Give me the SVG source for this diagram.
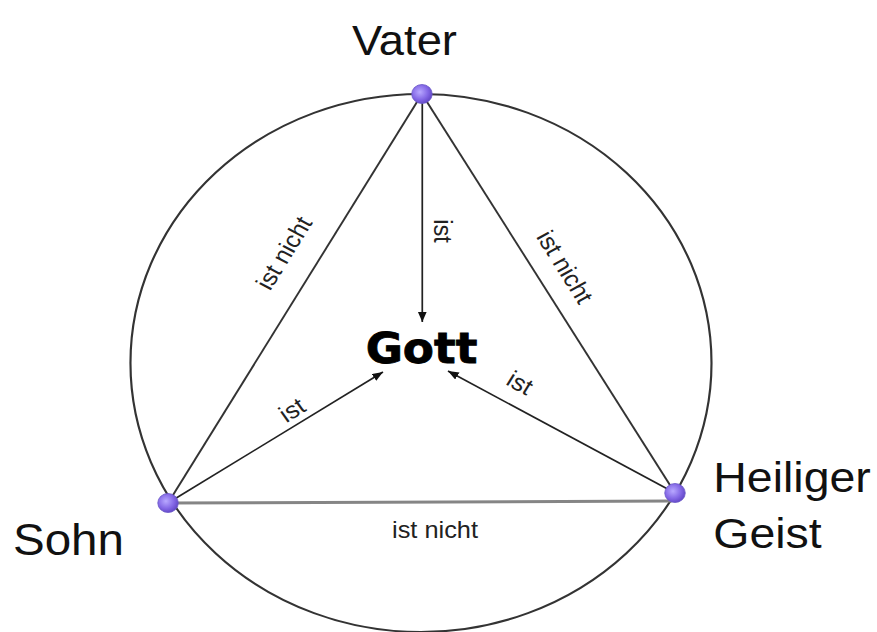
<svg xmlns="http://www.w3.org/2000/svg" width="877" height="632" viewBox="0 0 877 632">
<defs>
<style>
.edge{stroke:#333;stroke-width:1.8;fill:none}
.base{stroke:#858585;stroke-width:3;fill:none}
.arrow{stroke:#222;stroke-width:1.6;fill:none;marker-end:url(#ah)}
.ring{stroke:#333;stroke-width:2;fill:none}
.big{font-family:"Liberation Sans",Arial,sans-serif;fill:#111}
.lbl{font-family:"Liberation Sans",Arial,sans-serif;font-size:23.5px;fill:#222}
.gott{font-family:"DejaVu Sans",Verdana,sans-serif;font-weight:bold;font-size:42px;fill:#000;stroke:#000;stroke-width:0.8}
.node{fill:url(#ng);stroke:#6a58c8;stroke-width:0.8}
</style>
<radialGradient id="ng" cx="0.4" cy="0.4" r="0.65">
<stop offset="0" stop-color="#b8a8ff"/>
<stop offset="0.6" stop-color="#8468e6"/>
<stop offset="1" stop-color="#5f44c4"/>
</radialGradient>
<marker id="ah" markerUnits="userSpaceOnUse" markerWidth="12" markerHeight="10" refX="10" refY="4" orient="auto">
<path d="M0,0 L10,4 L0,8 z" fill="#111"/>
</marker>
</defs>
<rect width="877" height="632" fill="#fff"/>
<g transform="scale(1.08 1)">
<circle class="ring" cx="389.8" cy="363" r="269"/>
<g id="connectors">
<line class="edge" x1="390.7" y1="94" x2="155.6" y2="503"/>
<line class="edge" x1="390.7" y1="94" x2="625" y2="493"/>
<line class="base" x1="155.6" y1="503" x2="622" y2="501"/>
<line class="arrow" x1="391" y1="100" x2="391" y2="322"/>
<line class="arrow" x1="155.6" y1="503" x2="354.6" y2="372"/>
<line class="arrow" x1="625" y1="493" x2="414.8" y2="371"/>
<text class="lbl" text-anchor="middle" transform="translate(263 253) rotate(-60.1)" dy="8">ist nicht</text>
<text class="lbl" text-anchor="middle" transform="translate(523 267) rotate(59.6)" dy="8">ist nicht</text>
<text class="lbl" text-anchor="middle" x="402.8" y="538">ist nicht</text>
<text class="lbl" text-anchor="middle" transform="translate(402 231) rotate(90)">ist</text>
<text class="lbl" text-anchor="middle" transform="translate(270.4 410) rotate(-33.4)" dy="8">ist</text>
<text class="lbl" text-anchor="middle" transform="translate(481.5 383) rotate(30.1)" dy="8">ist</text>
</g>
<g id="gott">
<text class="gott" text-anchor="middle" x="390.3" y="363">Gott</text>
</g>
<g id="vater">
<circle class="node" cx="390.7" cy="94" r="9.5"/>
<text class="big" font-size="42" text-anchor="middle" x="374.5" y="55">Vater</text>
</g>
<g id="sohn">
<circle class="node" cx="155.6" cy="503" r="9.5"/>
<text class="big" font-size="44" x="12" y="555">Sohn</text>
</g>
<g id="geist">
<circle class="node" cx="625" cy="493" r="9.5"/>
<text class="big" font-size="43" x="660.5" y="492">Heiliger</text>
<text class="big" font-size="43" x="660.5" y="548">Geist</text>
</g>
</g>
</svg>
